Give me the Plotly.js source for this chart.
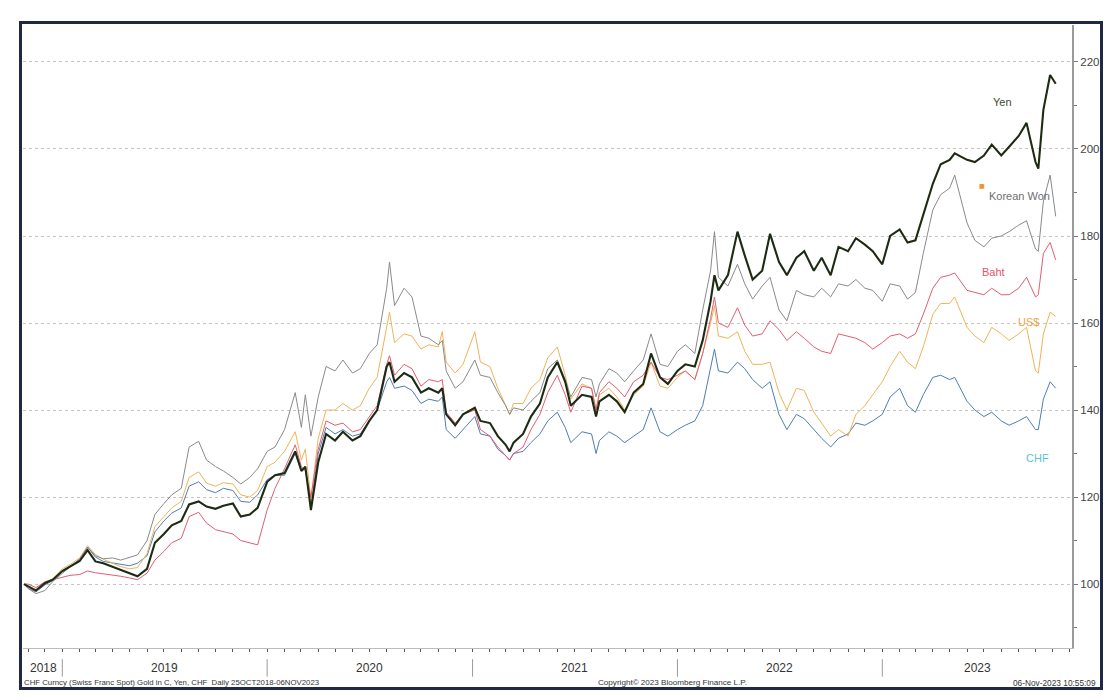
<!DOCTYPE html>
<html><head><meta charset="utf-8">
<script src="https://cdn.plot.ly/plotly-3.0.1.min.js"></script>
<style>
html,body{margin:0;padding:0;background:#fff;}
#chart{position:absolute;left:0;top:0;width:1120px;height:700px;}
#frame{position:absolute;left:19px;top:21px;width:1084px;height:669px;box-sizing:border-box;border:3px solid #1f2845;pointer-events:none;}
</style></head><body>
<div id="chart"></div><div id="frame"></div>
<script>
const dates = [
'2018-10-25','2018-11-01','2018-11-15','2018-12-01','2018-12-15',
'2019-01-01','2019-01-15','2019-02-01','2019-02-15','2019-03-01','2019-03-15','2019-04-01','2019-04-15','2019-05-01','2019-05-15','2019-06-01','2019-06-15','2019-07-01','2019-07-15','2019-08-01','2019-08-15','2019-09-01','2019-09-15','2019-10-01','2019-10-15','2019-11-01','2019-11-15','2019-12-01','2019-12-15',
'2020-01-01','2020-01-15','2020-02-01','2020-02-20','2020-03-02','2020-03-09','2020-03-19','2020-04-01','2020-04-15','2020-05-01','2020-05-15','2020-06-01','2020-06-15','2020-07-01','2020-07-15','2020-08-01','2020-08-06','2020-08-15','2020-09-01','2020-09-15','2020-10-01','2020-10-15','2020-11-01','2020-11-08','2020-11-15','2020-12-01','2020-12-15',
'2021-01-05','2021-01-15','2021-02-01','2021-02-15','2021-03-01','2021-03-08','2021-03-15','2021-04-01','2021-04-15','2021-05-01','2021-05-15','2021-06-01','2021-06-15','2021-06-25','2021-07-15','2021-08-01','2021-08-09','2021-08-15','2021-09-01','2021-09-15','2021-09-29','2021-10-15','2021-11-01','2021-11-15','2021-12-01','2021-12-15',
'2022-01-01','2022-01-15','2022-02-01','2022-02-15','2022-03-01','2022-03-08','2022-03-15','2022-04-01','2022-04-18','2022-05-01','2022-05-15','2022-06-01','2022-06-15','2022-07-01','2022-07-15','2022-08-01','2022-08-15','2022-09-01','2022-09-15','2022-10-01','2022-10-15','2022-11-01','2022-11-15','2022-12-01','2022-12-15',
'2023-01-01','2023-01-15','2023-02-01','2023-02-15','2023-03-01','2023-03-15','2023-04-01','2023-04-15','2023-05-01','2023-05-10','2023-06-01','2023-06-15','2023-07-01','2023-07-15','2023-08-01','2023-08-15','2023-09-01','2023-09-15','2023-10-01','2023-10-06','2023-10-15','2023-10-27','2023-11-06'
];
const yen = [
100,99.5,98.5,100.2,101,
103,104,105.3,107.8,105.2,104.8,104,103.3,102.5,101.8,103.5,109.5,111.5,113.5,114.5,118.3,119,117.8,117.3,118,118.5,115.5,116,117.5,
123.5,125,125.5,130.5,126,127,117,128,134.5,133,135,133,134,137.5,140,150,151,146.5,148.5,147.5,144,145,144,145,139,136.5,139,
140.5,137.5,137,134,132,130.5,132.5,134.5,138.5,141.5,147.5,151,146.5,141,143.5,143,138.5,142,143.5,142,139.5,144,146,153,147.5,146,
149,150.5,150,156,165,171,167.5,171,181,175.5,170,172,180.5,174,171,175,176.5,172,175,171,177.5,176.5,179.5,178,176.5,
173.5,180,181.5,178.5,179,185,192,196.5,197.5,199,197.5,197,198.5,201,198.5,200.5,203,206,197,195.5,209,217,215
];
const won = [
100,99,97.8,98.5,100.6,
102.5,104,105.8,108.5,106.5,105.8,106,105.5,106.2,106.7,110,116,118.5,120.5,122,131.5,132.8,128.5,127,126,124.5,123,124.5,126.5,
130.5,131.5,135.5,144,136,143.5,134,143,150,149,151.5,148.5,149.5,153,155,168,174,164,168,166,157,156.5,155,156,149,145,146.5,
151.5,148,147.5,144,141,139,140.5,140,142,144,149.5,151.5,147,143,147.5,147,143,146,149.5,148.5,146.5,149,151.5,157.5,150.5,150,
153.5,155,153,163,172,181,170.5,168.5,173.5,169,165.5,168.5,170.5,163,160.5,167.5,166.5,166,168,166,169,168.5,170,168,167.5,
165,169,168.5,165.5,167,176,186,189.5,191,194,183,179,177.5,179.5,180,181,182.5,183.5,177,176.5,188,194,184.5
];
const baht = [
100,100,99.2,100.5,101,
101.5,102,102.2,103,102.6,102.4,102,101.8,101.4,101,102.5,105.5,107.5,109.5,110.5,115.5,116.5,114,112.5,112,111.5,110,109.5,109,
117,122,126.5,132,127,126,120,131,137.5,136.5,137,135,135.5,138.5,141,150.5,152.5,148,150.5,149.5,145.5,147,146.5,147,139.5,137,139,
140,135.5,134,131.5,129.5,128.5,130,131.5,135.5,139,144,148,143.5,139.5,145.5,145,140,144,146.5,145,143,146.5,148,151,147.5,147,
148,149,147,153,161,166,160,159,163.5,159.5,157,157.5,160.5,158.5,156,158,156.5,154.5,153.5,153,157.5,157,156.5,155.5,154,
155.5,157,157.5,156.5,157.5,162,168,170.5,171,171.5,167.5,167,166.5,168,166.5,166.5,168,170.5,166,166.5,176,178.5,174.5
];
const usd = [
100,99.5,98.8,100.5,101.2,
103.5,104.5,106,108.8,106.8,105.7,104.8,104,103.5,103.8,107,113.2,115.5,117.5,119,124.5,125.8,123.2,122.5,123.3,123,120.5,120,121.5,
127,128,130.5,135,128.5,131,119.5,133.5,140,140,141.5,140,141,145,147.5,159.5,162.5,155.5,157.5,157,154,155,154.5,158,151,148.5,150.5,
158,151,150,145,141,139,141.5,141.5,145,147,152,154.5,148,142.5,146,145,140,143.5,145,143,140,143.5,145.5,151,145.5,145,
147.5,149,147,153,160,164,157,156.5,158,153.5,150.5,150.5,151,144,140,145,144.5,139.5,137,134,135.5,134,139,141,143.5,
146.5,150,153.5,151,149.5,154.5,162,164.5,164.5,166,159,157,155.5,159,157.5,156,157.5,159,149,148.5,157.5,162.5,161.5
];
const chf = [
100,99,98.2,99.8,100.8,
102.8,104,105.5,108.5,106.2,105.2,104.8,104.5,104.2,104.8,106.5,112,114.5,116.3,117.5,122.5,123.5,121.7,121,122,121.5,119,118.8,120.5,
124,125,125,130,126,126.5,118,130,136,134.5,135.5,134,134.5,137.5,140,146.5,147.5,145,145.5,144.5,141.5,142.5,142,143,135.5,133.5,135.5,
138.5,134.5,134,131,129.5,128.5,130,130.5,132.5,134.5,137.5,139.5,136,132.5,135,134.5,130,133,135,134,132.5,134,135.5,140.5,135,134,
135.5,136.5,137.5,141,150,154,149,148.5,151,149.5,147,145,146.5,139,135.5,139,138,135.5,133.5,131.5,133.5,134.5,137,136.5,137.5,
139,143,145,141,139.5,143.5,147.5,148,147,147.5,142,140,138.5,139.5,137.5,136.5,137.5,138.5,135.5,135.5,142.5,146.5,145
];
const seriesNames = ['Yen','Korean Won','Baht','US$','CHF'];
const yearLabels = ['2018','2019','2020','2021','2022','2023'];
const yearCenters = ['2018-11-28','2019-07-02','2020-07-02','2021-07-02','2022-07-02','2023-06-19'];
const yearBreaks = ['2019-01-01','2020-01-01','2021-01-01','2022-01-01','2023-01-01'];
const yTicks = [100,120,140,160,180,200,220];
const footerLeft = 'CHF Curncy (Swiss Franc Spot) Gold in C, Yen, CHF  Daily 25OCT2018-06NOV2023';
const footerMid = 'Copyright\u00a9 2023 Bloomberg Finance L.P.';
const footerRight = '06-Nov-2023 10:55:09';

const FONT = 'Liberation Sans, Arial, sans-serif';
const style = {
  'Yen':        {color:'#1d2b12', width:2.1, label:'#3b4a32', lx:'2023-08-04', ly:210.8},
  'Korean Won': {color:'#8a8a8a', width:1,   label:'#6e6e6e', lx:'2023-09-02', ly:189.3},
  'Baht':       {color:'#e25d72', width:1,   label:'#e0566c', lx:'2023-07-19', ly:171.7},
  'US$':        {color:'#f0b457', width:1,   label:'#eaa64a', lx:'2023-09-19', ly:160.3},
  'CHF':        {color:'#4f7db3', width:1,   label:'#5bbfd8', lx:'2023-10-05', ly:129.0}
};
const values = {'Yen':yen,'Korean Won':won,'Baht':baht,'US$':usd,'CHF':chf};
const drawOrder = ['CHF','US$','Baht','Korean Won','Yen'];

const traces = drawOrder.map(n => ({
  x: dates, y: values[n], type:'scatter', mode:'lines', name:n,
  line:{color:style[n].color, width:style[n].width}, hoverinfo:'skip'
}));

const annotations = [];
seriesNames.forEach(n => {
  annotations.push({x:style[n].lx, y:style[n].ly, xref:'x', yref:'y', text:n, showarrow:false,
    font:{family:FONT, size:11, color:style[n].label}, xanchor:'center', yanchor:'middle'});
});
annotations.push({x:'2023-06-28', y:191.5, xref:'x', yref:'y', text:'\u25A0', showarrow:false,
  font:{family:'DejaVu Sans, sans-serif', size:6, color:'#e8962e'}, xanchor:'center', yanchor:'middle'});
yearLabels.forEach((t,i) => {
  annotations.push({x:yearCenters[i], y:-0.032, xref:'x', yref:'paper', text:t, showarrow:false,
    font:{family:FONT, size:12, color:'#333'}, xanchor:'center', yanchor:'middle'});
});
annotations.push({x:-0.001, y:-0.056, xref:'paper', yref:'paper', text:footerLeft, showarrow:false,
  font:{family:FONT, size:7.8, color:'#333'}, xanchor:'left', yanchor:'middle'});
annotations.push({x:0.546, y:-0.056, xref:'paper', yref:'paper', text:footerMid, showarrow:false,
  font:{family:FONT, size:8.1, color:'#333'}, xanchor:'left', yanchor:'middle'});
annotations.push({x:1.0248, y:-0.056, xref:'paper', yref:'paper', text:footerRight, showarrow:false,
  font:{family:FONT, size:8.3, color:'#333'}, xanchor:'right', yanchor:'middle'});

const shapes = yearBreaks.map(d => ({type:'line', xref:'x', yref:'paper', x0:d, x1:d, y0:-0.018, y1:-0.046,
  line:{color:'#999', width:1}}));

const layout = {
  width:1120, height:700,
  margin:{l:23, r:48, t:25, b:52},
  paper_bgcolor:'rgba(0,0,0,0)', plot_bgcolor:'#fff',
  showlegend:false, hovermode:false,
  xaxis:{type:'date', range:['2018-10-23','2023-12-05'], tickmode:'linear', tick0:'2018-11-01', dtick:'M1',
    ticks:'outside', ticklen:3, tickcolor:'#555', showticklabels:false, showgrid:false, zeroline:false,
    showline:true, linecolor:'#bbb', linewidth:1, fixedrange:true},
  yaxis:{side:'right', range:[85.3,228.5], tickmode:'array', tickvals:yTicks, ticktext:yTicks.map(String),
    ticks:'outside', ticklen:4, tickcolor:'#777', tickfont:{family:FONT, size:11.5, color:'#444'},
    showline:true, linecolor:'#9a9a9a', linewidth:2, showgrid:true, gridcolor:'#c4c4c4', griddash:'dot', gridwidth:1,
    zeroline:false, fixedrange:true,
    minor:{tickmode:'linear', tick0:0, dtick:10, ticks:'outside', ticklen:3, tickcolor:'#777', showgrid:false}},
  annotations:annotations, shapes:shapes
};
Plotly.newPlot('chart', traces, layout, {displayModeBar:false, staticPlot:true});
</script>
</body></html>
